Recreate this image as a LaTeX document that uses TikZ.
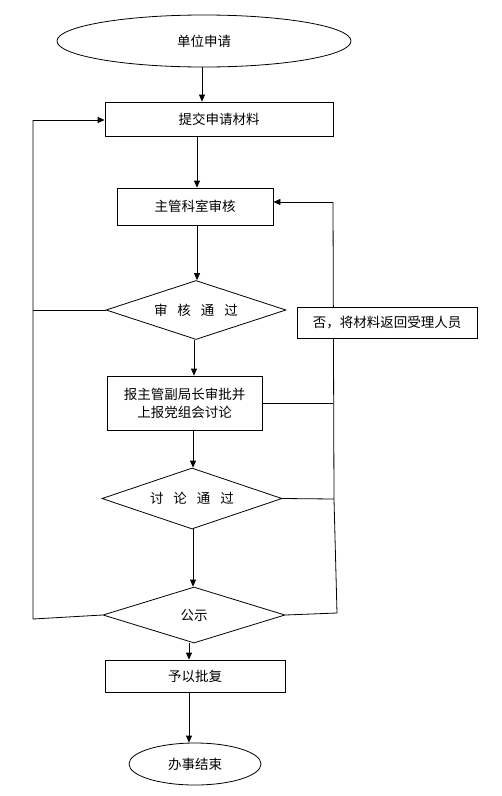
\documentclass[tikz,border=0pt]{standalone}
\usepackage{fontspec}
\newfontfamily\cjk{Noto Sans CJK SC}
\usetikzlibrary{shapes.geometric,arrows.meta}
\begin{document}
\begin{tikzpicture}[x=1pt,y=-1pt,
  every node/.style={font=\cjk\fontsize{13.5}{18}\selectfont, line width=0.8pt},
  box/.style={draw, rectangle, fill=white, inner sep=0pt, align=center},
  dec/.style={draw, diamond, aspect=3, inner sep=0pt},
  term/.style={draw, ellipse, inner sep=0pt},
  arr/.style={line width=0.8pt, -{Triangle[length=7pt,width=6pt]}},
  ln/.style={line width=0.8pt}]
\useasboundingbox (0,0) rectangle (502,796);
% nodes
\node[term, minimum width=294pt, minimum height=52pt] (e1) at (204,41) {单位申请};
\node[box, minimum width=228pt, minimum height=34pt] (b1) at (219,119) {提交申请材料};
\node[box, minimum width=156pt, minimum height=37pt] (b2) at (195,206.5) {主管科室审核};
\node[dec, minimum width=180pt, minimum height=59pt] (d1) at (196,310) {审\hspace{10pt}核\hspace{10pt}通\hspace{10pt}过};
\node[box, minimum width=155pt, minimum height=54pt] (b3) at (184.5,403) {报主管副局长审批并\\上报党组会讨论};
\node[dec, minimum width=180pt, minimum height=61pt] (d2) at (192,498.5) {讨\hspace{10pt}论\hspace{10pt}通\hspace{10pt}过};
\node[dec, minimum width=182pt, minimum height=56pt] (d3) at (194,615) {公示};
\node[box, minimum width=180pt, minimum height=32pt] (b4) at (195,676) {予以批复};
\node[term, minimum width=132pt, minimum height=42pt] (e2) at (195,764) {办事结束};
% helper coordinates
\coordinate (xa) at (202,0);
\coordinate (xb) at (197,0);
\coordinate (xc) at (194,0);
\coordinate (xd) at (193,0);
\coordinate (xe) at (189,0);
\coordinate (l1) at (33,120);
\coordinate (l2) at (33,619);
\coordinate (r1) at (333,202);
\coordinate (r2) at (334,499);
\coordinate (r3) at (337,613);
% left return line
\draw[ln] (d3.west) -- (l2) -- (l1);
\draw[arr] (l1) -- (l1 -| b1.west);
\draw[ln] (d1.west) -- (d1.west -| l1);
% right return line
\draw[ln] (d3.east) -- (r3) -- (r2) -- (r1);
\draw[arr] (r1) -- (r1 -| b2.east);
\draw[ln] (b3.east) -- (b3.east -| r1);
\draw[ln] (d2.east) -- (r2);
\node[box, minimum width=180pt, minimum height=31pt] (no) at (387,322.5) {否，将材料返回受理人员};
% main flow
\draw[arr] (e1.south -| xa) -- (b1.north -| xa);
\draw[arr] (b1.south -| xb) -- (b2.north -| xb);
\draw[arr] (b2.south -| xb) -- (d1.north -| xb);
\draw[arr] (d1.south -| xc) -- (b3.north -| xc);
\draw[arr] (b3.south -| xd) -- (d2.north -| xd);
\draw[arr] (d2.south -| xd) -- (d3.north -| xd);
\draw[arr] (d3.south -| xe) -- (b4.north -| xe);
\draw[arr] (b4.south -| xe) -- (e2.north -| xe);
\end{tikzpicture}
\end{document}
